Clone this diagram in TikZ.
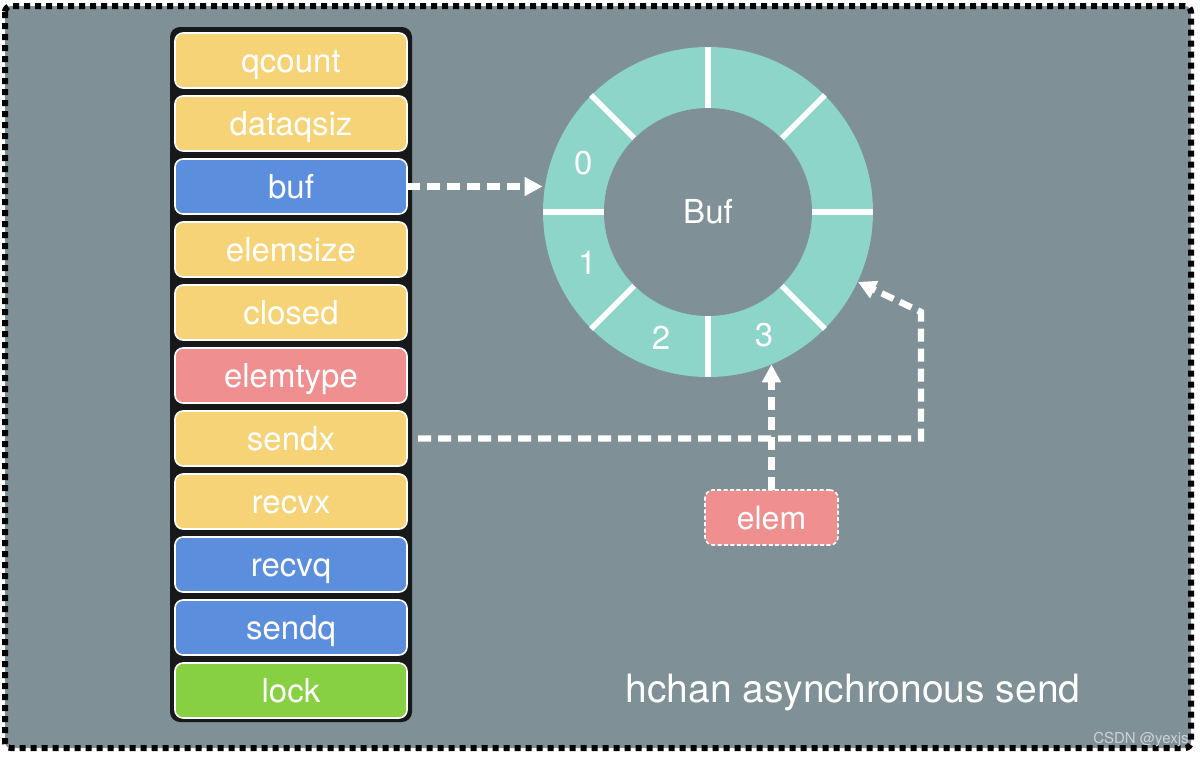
\documentclass[tikz,border=0pt]{standalone}
\usepackage{fontspec}
\setmainfont{TeX Gyre Heros}
\usepackage{tikz}
\definecolor{colbg}{RGB}{127,144,151}
\definecolor{colring}{RGB}{141,213,200}
\definecolor{colyellow}{RGB}{245,211,118}
\definecolor{colblue}{RGB}{91,142,221}
\definecolor{colpink}{RGB}{240,143,144}
\definecolor{colgreen}{RGB}{134,208,66}
\definecolor{colpanel}{RGB}{22,24,26}
\definecolor{colmark}{RGB}{205,210,214}
\newcommand{\fieldfont}{\fontsize{16.5pt}{20pt}\selectfont}
\newcommand{\titlefont}{\fontsize{19.5pt}{23pt}\selectfont}
\usetikzlibrary{
	arrows.meta,
	positioning
}
\tikzset{
	>={Triangle[length=9pt,width=9pt]},
	field/.style={rectangle, rounded corners=4pt, draw=white, line width=0.8pt, outer sep=0pt, minimum width=116pt, minimum height=27.5pt, inner sep=0pt, text=white, font=\fieldfont, text height=13pt, text depth=1.5pt},
	flow/.style={->, draw=white, line width=3.2pt, dash pattern=on 6.5pt off 3.5pt},
	divider/.style={draw=white, line width=2.8pt},
	slotlabel/.style={text=white, font=\fieldfont}
}

\begin{document}
\begin{tikzpicture}[x=0.5pt, y=-0.5pt]
	\useasboundingbox (0,0) rectangle (1200,757);
	\fill[white] (0,0) rectangle (1200,757);
	\filldraw[fill=colbg, draw=black, line width=3pt, dash pattern=on 3pt off 2.5pt, rounded corners=3pt] (5,6) rectangle (1191,748);

	% hchan fields
	\fill[colpanel, rounded corners=5pt] (170,27) rectangle (412,722);
	\node[field, fill=colyellow] (qcount) at (291,60.5) {qcount};
	\node[field, fill=colyellow] (dataqsiz) [below=4pt of qcount] {dataqsiz};
	\node[field, fill=colblue] (buf) [below=4pt of dataqsiz] {buf};
	\node[field, fill=colyellow] (elemsize) [below=4pt of buf] {elemsize};
	\node[field, fill=colyellow] (closed) [below=4pt of elemsize] {closed};
	\node[field, fill=colpink] (elemtype) [below=4pt of closed] {elemtype};
	\node[field, fill=colyellow] (sendx) [below=4pt of elemtype] {sendx};
	\node[field, fill=colyellow] (recvx) [below=4pt of sendx] {recvx};
	\node[field, fill=colblue] (recvq) [below=4pt of recvx] {recvq};
	\node[field, fill=colblue] (sendq) [below=4pt of recvq] {sendq};
	\node[field, fill=colgreen] (lock) [below=4pt of sendq] {lock};

	% ring buffer
	\node[circle, fill=colring, minimum size=165pt, inner sep=0pt] (ring) at (708,212) {};
	\node[circle, fill=colbg, minimum size=104pt, inner sep=0pt, slotlabel] (hub) at (ring.center) {Buf};
	\foreach \ang in {0,45,...,315}
		\draw[divider] (hub.\ang) -- (ring.\ang);
	\node[slotlabel] (slot0) at ([shift={(158.5:67pt)}]ring.center) {0};
	\node[slotlabel] (slot1) at ([shift={(203:65.5pt)}]ring.center) {1};
	\node[slotlabel] (slot2) at ([shift={(249.5:67pt)}]ring.center) {2};
	\node[slotlabel] (slot3) at ([shift={(294.5:67.5pt)}]ring.center) {3};

	\node[field, fill=colpink, dash pattern=on 2pt off 1.2pt, minimum width=66.5pt, font=\fontsize{16pt}{19pt}\selectfont] (elem) at (771.5,517.5) {elem};
	\coordinate (corner) at (921,312);

	\draw[flow] (buf.east) -- (buf.east -| ring.west);
	\draw[flow, shorten <=5.5pt] (sendx.east) -| (corner) -- (ring.-25);
	\draw[flow] (elem.north) -- (elem.north |- ring.-67.5);

	\node[text=white, font=\titlefont] (caption) at (853,693) {hchan asynchronous send};
	\node[anchor=east, text=colmark, font=\fontsize{7.5pt}{9pt}\selectfont, inner sep=0pt] (mark) at (1189,740) {CSDN @yexjs};
\end{tikzpicture}
\end{document}
